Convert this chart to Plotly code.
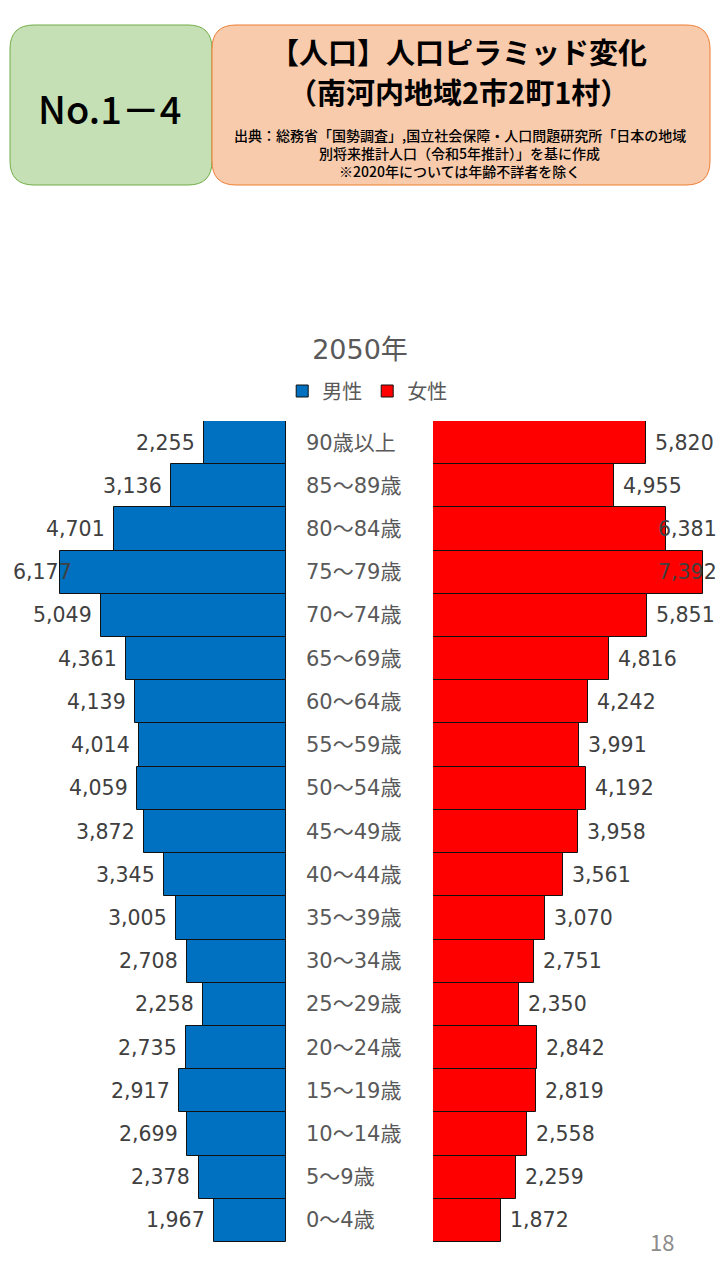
import plotly.graph_objects as go

# ---------------- data ----------------
age_groups = ["0～4歳", "5～9歳", "10～14歳", "15～19歳", "20～24歳", "25～29歳",
              "30～34歳", "35～39歳", "40～44歳", "45～49歳", "50～54歳", "55～59歳",
              "60～64歳", "65～69歳", "70～74歳", "75～79歳", "80～84歳", "85～89歳", "90歳以上"]
male = [1967, 2378, 2699, 2917, 2735, 2258, 2708, 3005, 3345, 3872, 4059, 4014,
        4139, 4361, 5049, 6177, 4701, 3136, 2255]
female = [1872, 2259, 2558, 2819, 2842, 2350, 2751, 3070, 3561, 3958, 4192, 3991,
          4242, 4816, 5851, 7392, 6381, 4955, 5820]
series_names = ["男性", "女性"]
chart_title = "2050年"
badge_text = "No.1－4"
title_lines = ["【人口】人口ピラミッド変化", "（南河内地域2市2町1村）"]
source_lines = ["出典：総務省「国勢調査」,国立社会保障・人口問題研究所「日本の地域",
                "別将来推計人口（令和5年推計）」を基に作成",
                "※2020年については年齢不詳者を除く"]
page_no = "18"

# ---------------- layout helpers ----------------
W, H = 720, 1280
def px(x):
    return x / W
def py(y):
    return 1 - y / H

FONT = "Noto Sans CJK JP"
NUMFONT = "DejaVu Sans, Noto Sans CJK JP"
BLUE = "#0070C0"
RED = "#FF0000"

SCALE = 0.036587  # px per person
LEFT_ZERO = 286
RIGHT_ZERO = 433
left_range_max = LEFT_ZERO / SCALE
right_range_max = (W - RIGHT_ZERO) / SCALE
label_cap_left = (LEFT_ZERO - 81) / SCALE
label_cap_right = (649 - RIGHT_ZERO) / SCALE

fig = go.Figure()
fig.add_trace(go.Bar(y=age_groups, x=male, orientation="h", name=series_names[0],
                     xaxis="x", yaxis="y", width=1,
                     marker=dict(color=BLUE, line=dict(color="#111111", width=1))))
fig.add_trace(go.Bar(y=age_groups, x=female, orientation="h", name=series_names[1],
                     xaxis="x2", yaxis="y", width=1,
                     marker=dict(color=RED, line=dict(color="#111111", width=1))))

annotations = []
num_font = dict(family=NUMFONT, size=20.5, color="#404040")
for cat, v in zip(age_groups, male):
    annotations.append(dict(x=min(v, label_cap_left), y=cat, xref="x", yref="y",
                            text=f"{v:,}", showarrow=False, xanchor="right",
                            xshift=-7, font=num_font))
for cat, v in zip(age_groups, female):
    annotations.append(dict(x=min(v, label_cap_right), y=cat, xref="x2", yref="y",
                            text=f"{v:,}", showarrow=False, xanchor="left",
                            xshift=7, font=num_font))
for cat in age_groups:
    annotations.append(dict(x=px(304), y=cat, xref="paper", yref="y", text=cat,
                            showarrow=False, xanchor="left",
                            font=dict(family=NUMFONT, size=21, color="#595959")))

# header texts
annotations.append(dict(x=px(110), y=py(107), xref="paper", yref="paper", text=badge_text,
                        showarrow=False, xanchor="center", yanchor="middle",
                        font=dict(family=FONT, size=38, color="#000000", weight=500)))
for txt, yy in zip(title_lines, [51, 91]):
    annotations.append(dict(x=px(459), y=py(yy), xref="paper", yref="paper", text=txt,
                            showarrow=False, xanchor="center", yanchor="middle",
                            font=dict(family=FONT, size=29, color="#000000", weight="bold")))
for txt, yy in zip(source_lines, [135, 153, 171]):
    annotations.append(dict(x=px(460), y=py(yy), xref="paper", yref="paper", text=txt,
                            showarrow=False, xanchor="center", yanchor="middle",
                            font=dict(family=FONT, size=14, color="#000000", weight=500)))
annotations.append(dict(x=px(662), y=py(1241), xref="paper", yref="paper", text=page_no,
                        showarrow=False, xanchor="center", yanchor="middle",
                        font=dict(family=FONT, size=22, color="#8c8c8c")))

def rounded_rect(x0, y0, x1, y1, r):
    rx, ry = r / W, r / H
    X0, X1 = px(x0), px(x1)
    Y0, Y1 = py(y0), py(y1)  # Y0 top (larger), Y1 bottom
    return (f"M {X0+rx},{Y0} L {X1-rx},{Y0} Q {X1},{Y0} {X1},{Y0-ry} "
            f"L {X1},{Y1+ry} Q {X1},{Y1} {X1-rx},{Y1} "
            f"L {X0+rx},{Y1} Q {X0},{Y1} {X0},{Y1+ry} "
            f"L {X0},{Y0-ry} Q {X0},{Y0} {X0+rx},{Y0} Z")

shapes = [
    dict(type="path", xref="paper", yref="paper", path=rounded_rect(10, 25, 212, 185, 24),
         fillcolor="#C5E0B4", line=dict(color="#70AD47", width=1), layer="below"),
    dict(type="path", xref="paper", yref="paper", path=rounded_rect(212, 25, 710, 185, 24),
         fillcolor="#F8CBAD", line=dict(color="#ED7D31", width=1), layer="below"),
]

fig.update_layout(
    width=W, height=H,
    margin=dict(l=0, r=0, t=0, b=0, autoexpand=False),
    paper_bgcolor="white", plot_bgcolor="white",
    bargap=0,
    showlegend=True,
    legend=dict(orientation="h", x=0.51, xanchor="center", y=py(391), yanchor="middle",
                font=dict(family=FONT, size=20, color="#595959"),
                itemwidth=30, traceorder="normal", bgcolor="rgba(0,0,0,0)"),
    title=dict(text=chart_title, x=0.5, xanchor="center", y=py(350), yanchor="middle",
               font=dict(family=NUMFONT, size=27, color="#595959")),
    xaxis=dict(domain=[0, px(LEFT_ZERO)], range=[left_range_max, 0], visible=False,
               fixedrange=True),
    xaxis2=dict(domain=[px(RIGHT_ZERO), 1], range=[0, right_range_max], visible=False,
                anchor="y", fixedrange=True),
    yaxis=dict(domain=[py(1242), py(421)], visible=False, type="category",
               categoryorder="array", categoryarray=age_groups, fixedrange=True),
    annotations=annotations,
    shapes=shapes,
    font=dict(family=FONT),
)

fig.write_html("out.html")
